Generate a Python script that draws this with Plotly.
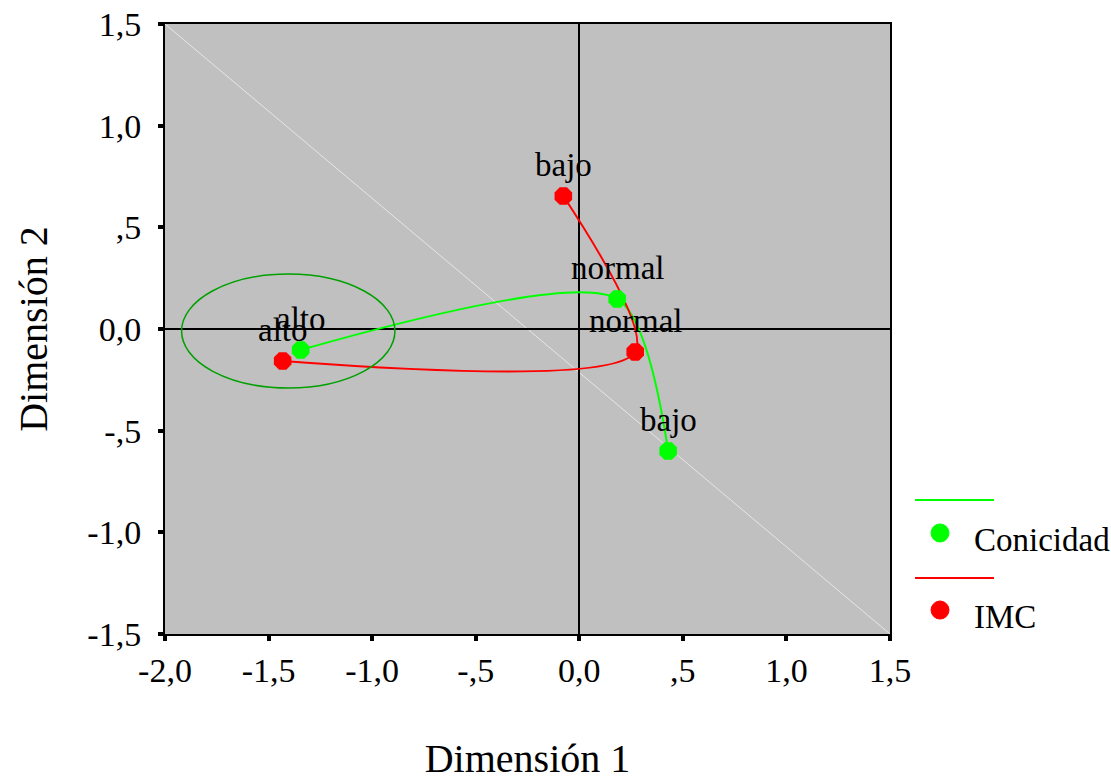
import plotly.graph_objects as go

categories = ["alto", "normal", "bajo"]
conicidad_x = [-1.345, 0.183, 0.429]
conicidad_y = [-0.103, 0.148, -0.600]
imc_x = [-1.432, 0.270, -0.077]
imc_y = [-0.157, -0.113, 0.654]

x_tickvals = [-2.0, -1.5, -1.0, -0.5, 0.0, 0.5, 1.0, 1.5]
x_ticktext = ["-2,0", "-1,5", "-1,0", "-,5", "0,0", ",5", "1,0", "1,5"]
y_tickvals = [-1.5, -1.0, -0.5, 0.0, 0.5, 1.0, 1.5]
y_ticktext = ["-1,5", "-1,0", "-,5", "0,0", ",5", "1,0", "1,5"]

ellipse_x = [-1.92, -0.89]
ellipse_y = [-0.29, 0.27]

GREEN = "#00ff00"
RED = "#ff0000"
FONT = "Liberation Serif"

fig = go.Figure()

# diagonal reference line
fig.add_shape(type="line", x0=-2.0, y0=1.5, x1=1.5, y1=-1.5,
              line=dict(color="#e6e6e6", width=1), layer="below")
# ellipse
fig.add_shape(type="circle", x0=ellipse_x[0], x1=ellipse_x[1], y0=ellipse_y[0], y1=ellipse_y[1],
              line=dict(color="#00a000", width=1.5))

fig.add_trace(go.Scatter(x=conicidad_x, y=conicidad_y, mode="lines",
                         line=dict(color=GREEN, width=2, shape="spline", smoothing=0.75),
                         hoverinfo="skip", showlegend=False))
fig.add_trace(go.Scatter(x=imc_x, y=imc_y, mode="lines",
                         line=dict(color=RED, width=2, shape="spline", smoothing=0.75),
                         hoverinfo="skip", showlegend=False))
fig.add_trace(go.Scatter(x=conicidad_x, y=conicidad_y, mode="markers", name="Conicidad",
                         marker=dict(symbol="octagon", size=19, color=GREEN), showlegend=False))
fig.add_trace(go.Scatter(x=imc_x, y=imc_y, mode="markers", name="IMC",
                         marker=dict(symbol="octagon", size=19, color=RED), showlegend=False))

for xs, ys in [(conicidad_x, conicidad_y), (imc_x, imc_y)]:
    for cat, xv, yv in zip(categories, xs, ys):
        fig.add_annotation(x=xv, y=yv, text=cat, showarrow=False, yshift=31,
                           font=dict(family=FONT, size=33, color="black"))

# manual legend (paper coordinates)
legend_items = [("Conicidad", GREEN, 0.2197, 0.1656), ("IMC", RED, 0.0918, 0.0393)]
for name, col, ly, my in legend_items:
    fig.add_shape(type="line", xref="paper", yref="paper", x0=1.0345, x1=1.1434, y0=ly, y1=ly,
                  line=dict(color=col, width=2))
    fig.add_shape(type="circle", xref="paper", yref="paper", x0=1.0566, x1=1.0814,
                  y0=my - 0.0148, y1=my + 0.0148, line=dict(color=col, width=1), fillcolor=col)
    fig.add_annotation(xref="paper", yref="paper", x=1.1131, y=my - 0.011, text=name,
                       showarrow=False, xanchor="left", yanchor="middle",
                       font=dict(family=FONT, size=33, color="black"))

axis_common = dict(showgrid=False, zeroline=True, zerolinecolor="black", zerolinewidth=2,
                   showline=True, mirror=True, linecolor="black", linewidth=2,
                   ticks="outside", ticklen=5, tickwidth=4, tickcolor="black",
                   automargin=False,
                   tickfont=dict(family=FONT, size=34, color="black"))

fig.update_xaxes(range=[-2.0, 1.5], tickvals=x_tickvals, ticktext=x_ticktext,
                 title=dict(text="Dimensión 1", font=dict(family=FONT, size=40, color="black"), standoff=69),
                 **axis_common)
fig.update_yaxes(range=[-1.5, 1.5], tickvals=y_tickvals, ticktext=y_ticktext,
                 title=dict(text="Dimensión 2", font=dict(family=FONT, size=40, color="black"), standoff=27),
                 ticklabelstandoff=10, **axis_common)

fig.update_layout(width=1111, height=781,
                  margin=dict(l=165, r=221, t=24, b=147),
                  plot_bgcolor="#c0c0c0", paper_bgcolor="white",
                  showlegend=False)

fig.write_html("out.html", config={"displayModeBar": False},
               post_script="document.body.style.margin='0';document.body.style.overflow='hidden';")
